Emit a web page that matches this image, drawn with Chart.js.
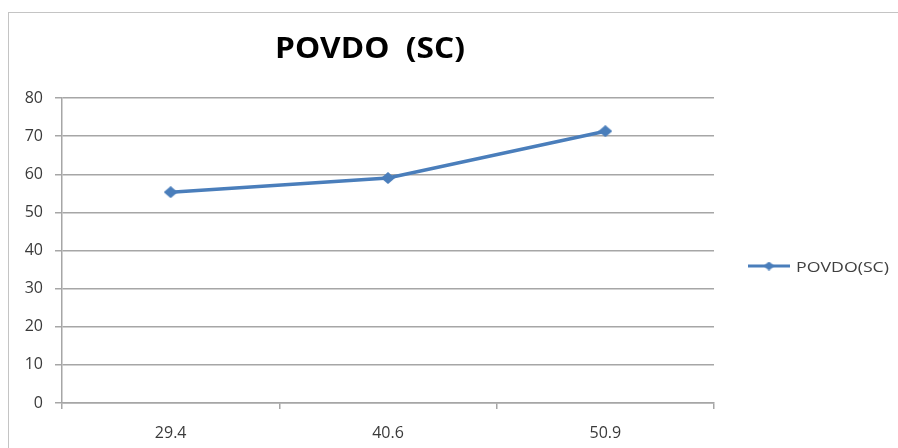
<!DOCTYPE html>
<html>
<head>
<meta charset="utf-8">
<script src="https://cdn.jsdelivr.net/npm/chart.js@4/dist/chart.umd.min.js"></script>
<style>
  html, body { margin: 0; padding: 0; background: #ffffff; overflow: hidden; }
  #wrap { position: relative; width: 898px; height: 448px; }
  #frame { position: absolute; left: 8px; top: 12px; width: 1000px; height: 600px;
           border: 1px solid #c4c4c4; box-sizing: border-box; }
  canvas { position: absolute; left: 0; top: 0; }
</style>
</head>
<body>
<div id="wrap">
  <div id="frame"></div>
  <canvas id="chart" width="898" height="448"></canvas>
</div>
<script>
// Category labels (x) and series values
const categories = ['29.4', '40.6', '50.9'];
const povdoValues = [55.3, 59.0, 71.3];
const seriesName = 'POVDO(SC)';
const chartTitle = 'POVDO  (SC)';

const lineColor = '#4a7ebb';
const gridColor = '#a6a6a6';
const tickFont = { family: "'Open Sans', 'Noto Sans', sans-serif", size: 16 };

// Slightly wide diamond marker
function makeDiamond(w, h, color) {
  const c = document.createElement('canvas');
  c.width = w; c.height = h;
  const g = c.getContext('2d');
  g.fillStyle = color;
  g.beginPath();
  g.moveTo(w / 2, 0);
  g.lineTo(w, h / 2);
  g.lineTo(w / 2, h);
  g.lineTo(0, h / 2);
  g.closePath();
  g.fill();
  return c;
}
const diamond = makeDiamond(14, 12, lineColor);
const legendDiamond = makeDiamond(11, 9, lineColor);

// Draw text horizontally fitted to a given width
function fitText(ctx, text, x, y, width) {
  const w = ctx.measureText(text).width;
  ctx.save();
  ctx.translate(x, y);
  ctx.scale(width / w, 1);
  ctx.fillText(text, 0, 0);
  ctx.restore();
}

// Title and legend are painted by hand to place them like the original layout
const decorations = {
  id: 'decorations',
  afterDraw(chart) {
    const ctx = chart.ctx;
    ctx.save();
    ctx.fillStyle = '#000000';
    ctx.font = "bold 29px 'Open Sans', 'Liberation Sans', sans-serif";
    ctx.textAlign = 'center';
    ctx.textBaseline = 'alphabetic';
    fitText(ctx, chartTitle, 370, 58, 190);

    // legend entry: line with diamond marker
    const ly = 266;
    ctx.strokeStyle = lineColor;
    ctx.lineWidth = 3;
    ctx.beginPath();
    ctx.moveTo(748, ly);
    ctx.lineTo(790, ly);
    ctx.stroke();
    ctx.drawImage(legendDiamond, 769 - 5.5, ly - 4.5);
    ctx.fillStyle = '#404040';
    ctx.font = "15px 'Open Sans', 'Noto Sans', sans-serif";
    ctx.textAlign = 'left';
    ctx.textBaseline = 'alphabetic';
    fitText(ctx, chart.data.datasets[0].label, 796, 272, 93);
    ctx.restore();
  }
};

new Chart(document.getElementById('chart'), {
  type: 'line',
  data: {
    labels: categories,
    datasets: [{
      label: seriesName,
      data: povdoValues,
      borderColor: lineColor,
      backgroundColor: lineColor,
      borderWidth: 3.5,
      pointStyle: diamond,
      pointRadius: 6,
      pointHoverRadius: 6,
      tension: 0,
      fill: false
    }]
  },
  options: {
    responsive: false,
    animation: false,
    layout: { padding: { top: 98, right: 184, bottom: 0, left: 0 } },
    plugins: {
      legend: { display: false },
      title: { display: false },
      tooltip: { enabled: false }
    },
    scales: {
      x: {
        offset: true,
        grid: { offset: true, drawOnChartArea: false, drawTicks: true, tickLength: 6, color: gridColor, lineWidth: 1.5 },
        border: { display: true, color: gridColor, width: 1.5 },
        ticks: { color: '#3a3a3a', font: tickFont, padding: 15 },
        afterFit(scale) { scale.height = 45; }
      },
      y: {
        min: 0,
        max: 80,
        ticks: { stepSize: 10, color: '#3a3a3a', font: tickFont, padding: 12 },
        grid: { color: gridColor, lineWidth: 1.5, tickLength: 7 },
        border: { display: true, color: gridColor, width: 1.5 },
        afterFit(scale) { scale.width = 62; }
      }
    }
  },
  plugins: [decorations]
});
</script>
</body>
</html>
